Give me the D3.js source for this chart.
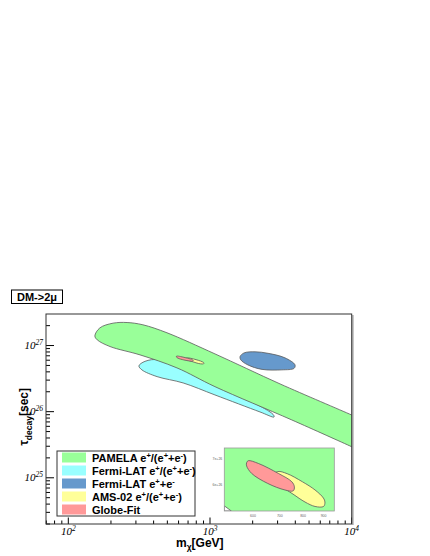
<!DOCTYPE html>
<html><head><meta charset="utf-8">
<script src="https://cdn.jsdelivr.net/npm/d3@7"></script>
<style>body{margin:0;background:#fff}svg{display:block}</style>
</head><body>
<script>
// ---- data (mass in GeV, lifetime in sec) ----
const pamelaMass = [154,167,207,260,336,497,1084,3120,10000,11000,11000,10000,3776,1084,585,321,197,160];
const pamelaTau  = [1.40e27,1.85e27,2.18e27,2.23e27,2.06e27,1.56e27,7.48e26,2.63e26,8.9e25,8.1e25,2.69e25,2.95e25,7.5e25,2.39e26,4.59e26,7.22e26,9.66e26,1.22e27];
const fermiRatioMass = [315,348,443,1084,2786,2830,2254,1084,646,423,331];
const fermiRatioTau  = [4.92e26,5.77e26,6.07e26,2.63e26,9.1e25,8.3e25,9.9e25,1.79e26,2.72e26,3.39e26,4.28e26];
const fermiSumMass = [1630,1740,2080,2570,3380,3980,3920,3220,2330,1850,1650];
const fermiSumTau  = [6.81e26,7.74e26,8.04e26,7.63e26,6.52e26,5.1e26,4.52e26,4.29e26,4.36e26,5.1e26,6.07e26];
const amsMass = [669,692,730,797,857,899,907,900,857,809,755,700];
const amsTau  = [6.33e26,6.5e26,6.42e26,6.12e26,5.83e26,5.56e26,5.43e26,5.29e26,5.29e26,5.43e26,5.69e26,6.0e26];
const globeMass = [578.6,584,618.7,694,750,761,756,721,653,595.5,578.6];
const globeTau  = [6.85e26,6.93e26,6.82e26,6.43e26,6.12e26,5.94e26,5.80e26,5.83e26,6.06e26,6.43e26,6.72e26];
const insetCutMass = [509,530,509];
const insetCutTau  = [5.15e26,5.15e26,5.31e26];

const xMajorExp = [2,3,4];
const yMajorExp = [25,26,27];
const insetXTicks = [600,700,800,900];
const insetXLabels = ["600","700","800","900"];
const insetYTicks = [6e26,7e26];
const insetYLabels = ["6e+26","7e+26"];

const legendLabels = [
  ["PAMELA e","+","/(e","+","+e","-",")"],
  ["Fermi-LAT e","+","/(e","+","+e","-",")"],
  ["Fermi-LAT e","+","+e","-"],
  ["AMS-02 e","+","/(e","+","+e","-",")"],
  ["Globe-Fit"]
];
const colors = {pamela:"#99ff99", fermiRatio:"#99ffff", fermiSum:"#6699cc", ams:"#ffff99", globe:"#ff9999"};
const legendColors = [colors.pamela, colors.fermiRatio, colors.fermiSum, colors.ams, colors.globe];

// ---- layout ----
const W = 430, H = 556;
const svg = d3.select("body").append("svg").attr("width", W).attr("height", H);
const P = {l:46, r:351.7, t:314, b:524};

const x = d3.scaleLog().domain([69.6, 1e4]).range([P.l, P.r]);
const y = d3.scaleLog().domain([2e24, 3e27]).range([P.b, P.t]);

const defs = svg.append("defs");
defs.append("clipPath").attr("id","clipMain").append("rect")
  .attr("x",P.l).attr("y",P.t).attr("width",P.r-P.l).attr("height",P.b-P.t);

function zipPts(ms, ts){ return ms.map((m,i)=>[m, ts[i]]); }
function shape(g, xs, ys, ms, ts, fill, curve){
  const line = d3.line().x(d=>xs(d[0])).y(d=>ys(d[1])).curve(curve||d3.curveCatmullRomClosed.alpha(0.5));
  g.append("path").attr("d", line(zipPts(ms,ts)))
    .attr("fill", fill).attr("stroke","#5a5a5a").attr("stroke-width",0.8);
}

// frame background
svg.append("rect").attr("x",P.l).attr("y",P.t).attr("width",P.r-P.l).attr("height",P.b-P.t)
  .attr("fill","#fff");

const gMain = svg.append("g").attr("clip-path","url(#clipMain)");
shape(gMain, x, y, fermiRatioMass, fermiRatioTau, colors.fermiRatio);
shape(gMain, x, y, pamelaMass, pamelaTau, colors.pamela);
shape(gMain, x, y, fermiSumMass, fermiSumTau, colors.fermiSum);
shape(gMain, x, y, amsMass, amsTau, colors.ams);
shape(gMain, x, y, globeMass, globeTau, colors.globe);

// axes ticks
const gAx = svg.append("g").attr("stroke","#000").attr("stroke-width",1);
const xd = x.domain(), yd = y.domain();
for (let k=1;k<=4;k++) for (let j=1;j<=9;j++){
  const v = j*Math.pow(10,k);
  if (v < xd[0] || v > xd[1]) continue;
  const len = j===1 ? 6.5 : 3.5;
  gAx.append("line").attr("x1",x(v)).attr("x2",x(v)).attr("y1",P.b).attr("y2",P.b-len);
}
for (let k=24;k<=27;k++) for (let j=1;j<=9;j++){
  const v = j*Math.pow(10,k);
  if (v < yd[0] || v > yd[1]) continue;
  const len = j===1 ? 8 : 4;
  gAx.append("line").attr("y1",y(v)).attr("y2",y(v)).attr("x1",P.l).attr("x2",P.l+len);
}

// frame
svg.append("line").attr("x1",P.r+1.2).attr("x2",P.r+1.2).attr("y1",P.t+1).attr("y2",P.b+1)
  .attr("stroke","#aaa").attr("stroke-width",1.5);
svg.append("rect").attr("x",P.l).attr("y",P.t).attr("width",P.r-P.l).attr("height",P.b-P.t)
  .attr("fill","none").attr("stroke","#333").attr("stroke-width",1);

// tick labels
const lblFont = "'Liberation Serif', 'Times New Roman', serif";
xMajorExp.forEach(e=>{
  const t = svg.append("text").attr("x", x(Math.pow(10,e))).attr("y", 534.5)
    .attr("text-anchor","middle").attr("font-family",lblFont).attr("font-style","italic")
    .attr("font-size",11).attr("fill","#000");
  t.append("tspan").text("10");
  t.append("tspan").attr("dy",-4).attr("font-size",7.5).text(String(e));
});
yMajorExp.forEach(e=>{
  const t = svg.append("text").attr("x", 43).attr("y", y(Math.pow(10,e))+3.5)
    .attr("text-anchor","end").attr("font-family",lblFont).attr("font-style","italic")
    .attr("font-size",11).attr("fill","#000");
  t.append("tspan").text("10");
  t.append("tspan").attr("dy",-4).attr("font-size",7.5).text(String(e));
});

// axis titles
const tFont = "'Liberation Sans', Arial, Helvetica, sans-serif";
{
  const t = svg.append("text").attr("x",176).attr("y",546.5).attr("font-family",tFont)
    .attr("font-weight","bold").attr("font-size",12).attr("fill","#000");
  t.append("tspan").text("m");
  t.append("tspan").attr("dy",3.5).attr("font-size",8.5).text("χ");
  t.append("tspan").attr("dy",-3.5).text("[GeV]");
}
{
  const t = svg.append("text").attr("transform","translate(28,388) rotate(-90)")
    .attr("text-anchor","end").attr("font-family",tFont)
    .attr("font-weight","bold").attr("font-size",12).attr("fill","#000");
  t.append("tspan").text("τ");
  t.append("tspan").attr("dy",3.5).attr("font-size",8.5).text("decay");
  t.append("tspan").attr("dy",-3.5).text("[sec]");
}

// title box
svg.append("rect").attr("x",11.5).attr("y",290).attr("width",51).attr("height",13.5)
  .attr("fill","#fff").attr("stroke","#000").attr("stroke-width",1);
svg.append("text").attr("x",37).attr("y",301).attr("text-anchor","middle")
  .attr("font-family",tFont).attr("font-weight","bold").attr("font-size",11).text("DM->2μ");

// legend
const L = {x:57, y:451, w:138, h:65};
svg.append("rect").attr("x",L.x).attr("y",L.y).attr("width",L.w).attr("height",L.h)
  .attr("fill","#fff").attr("stroke","#333").attr("stroke-width",1);
legendLabels.forEach((parts,i)=>{
  const cy = L.y + 6.5 + i*13;
  svg.append("rect").attr("x",62).attr("y",cy-5).attr("width",24).attr("height",10)
    .attr("fill",legendColors[i]);
  const t = svg.append("text").attr("x",92).attr("y",cy+4).attr("font-family",tFont)
    .attr("font-weight","bold").attr("font-size",11).attr("fill","#000");
  parts.forEach((p,j)=>{
    if (j===0){ t.append("tspan").text(p); return; }
    const isSup = (j%2===1);
    t.append("tspan").attr("dy", isSup ? -4 : 4).attr("font-size", isSup?7.5:11).text(p);
  });
});

// inset
const I = {l:224.3, r:334.3, t:448, b:511};
const xi = d3.scaleLog().domain([509, 957]).range([I.l, I.r]);
const yi = d3.scaleLog().domain([5.15e26, 7.47e26]).range([I.b, I.t]);
defs.append("clipPath").attr("id","clipInset").append("rect")
  .attr("x",I.l).attr("y",I.t).attr("width",I.r-I.l).attr("height",I.b-I.t);
svg.append("rect").attr("x",I.l).attr("y",I.t).attr("width",I.r-I.l).attr("height",I.b-I.t)
  .attr("fill",colors.pamela);
const gIn = svg.append("g").attr("clip-path","url(#clipInset)");
shape(gIn, xi, yi, insetCutMass, insetCutTau, "#fff", d3.curveLinearClosed);
shape(gIn, xi, yi, amsMass, amsTau, colors.ams);
shape(gIn, xi, yi, globeMass, globeTau, colors.globe);
svg.append("rect").attr("x",I.l).attr("y",I.t).attr("width",I.r-I.l).attr("height",I.b-I.t)
  .attr("fill","none").attr("stroke","#999").attr("stroke-width",0.8);
insetXTicks.forEach((v,i)=>{
  svg.append("text").attr("x",xi(v)).attr("y",I.b+5.5).attr("text-anchor","middle")
    .attr("font-family",tFont).attr("font-size",3.5).attr("fill","#666").text(insetXLabels[i]);
});
insetYTicks.forEach((v,i)=>{
  svg.append("text").attr("x",I.l-2).attr("y",yi(v)+1.2).attr("text-anchor","end")
    .attr("font-family",tFont).attr("font-size",3.5).attr("fill","#666").text(insetYLabels[i]);
});
</script>
</body></html>
